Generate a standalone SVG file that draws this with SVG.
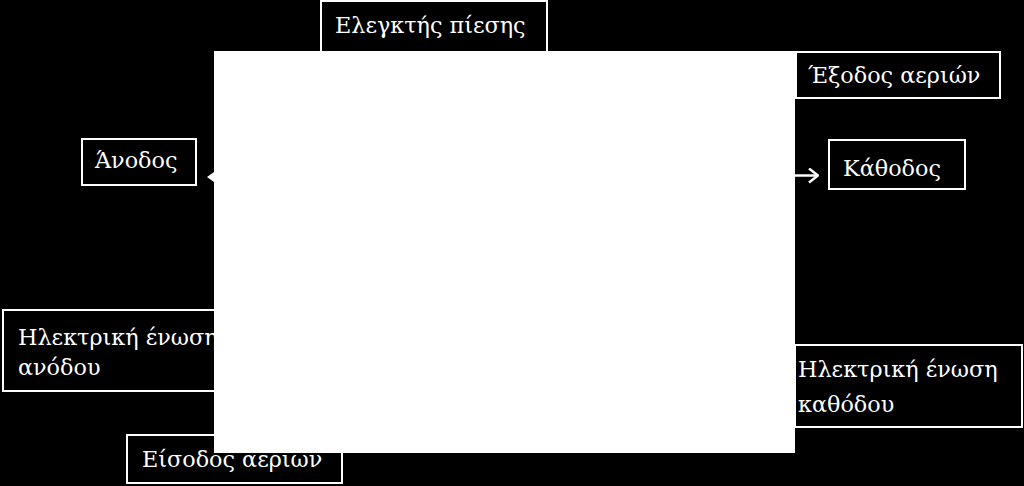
<svg xmlns="http://www.w3.org/2000/svg" width="1024" height="486" viewBox="0 0 1024 486">
<defs>
<style>
.box{fill:#000;stroke:#fff;stroke-width:2}
.lbl{font-family:"DejaVu Serif","Liberation Serif",serif;font-size:22.3px;fill:#fff}
.conn{stroke:#fff;stroke-width:2.5;fill:none}
</style>
<marker id="open" viewBox="0 0 12 16" refX="11" refY="8" markerWidth="12" markerHeight="16" orient="auto" markerUnits="userSpaceOnUse">
<path d="M2,1 L11,8 L2,15" fill="none" stroke="#fff" stroke-width="2.5"/>
</marker>
</defs>
<rect width="1024" height="486" fill="#000"/>
<g id="pressure-controller">
<rect class="box" x="321" y="1" width="226" height="60"/>
<text class="lbl" x="335" y="33">Ελεγκτής πίεσης</text>
</g>
<g id="gas-outlet">
<rect class="box" x="796" y="52" width="204" height="46"/>
<text class="lbl" x="808" y="83">Έξοδος αεριών</text>
</g>
<g id="anode">
<rect class="box" x="82" y="139" width="114" height="46"/>
<text class="lbl" x="95" y="168">Άνοδος</text>
</g>
<g id="cathode">
<rect class="box" x="829" y="140" width="136" height="49"/>
<text class="lbl" x="843" y="176">Κάθοδος</text>
</g>
<g id="anode-connection">
<rect class="box" x="3" y="310" width="240" height="81"/>
<text class="lbl" x="18" y="345">Ηλεκτρική ένωση</text>
<text class="lbl" x="18" y="375">ανόδου</text>
</g>
<g id="gas-inlet">
<rect class="box" x="127" y="435" width="215" height="48"/>
<text class="lbl" x="142" y="467">Είσοδος αεριων</text>
</g>
<g id="cathode-connection">
<rect class="box" x="795" y="345" width="227" height="82"/>
<text class="lbl" x="798" y="377">Ηλεκτρική ένωση</text>
<text class="lbl" x="798" y="412">καθόδου</text>
</g>
<rect id="cell-picture" x="214" y="51" width="581" height="402" fill="#fff"/>
<g id="connectors">
<line class="conn" x1="795" y1="175.5" x2="818" y2="175.5" marker-end="url(#open)"/>
<path d="M207,177 L214,172 L214,182 Z" fill="#fff"/>
</g>
</svg>
